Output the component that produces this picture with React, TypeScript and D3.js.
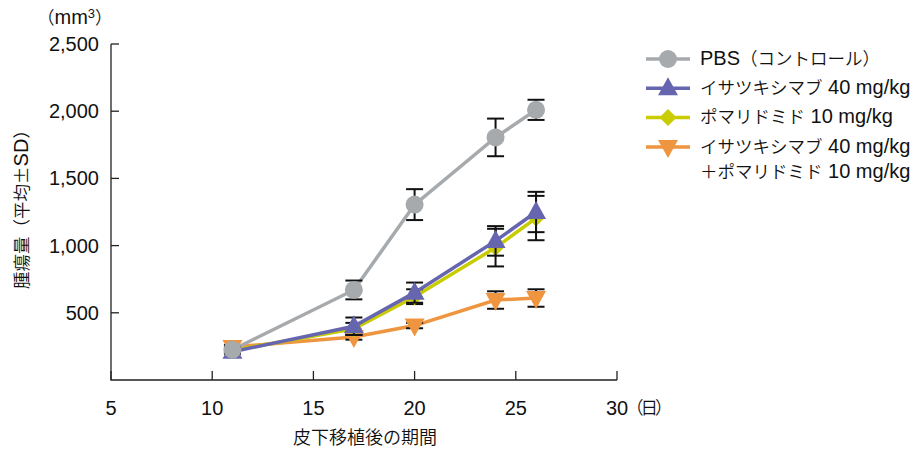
import React from "react";
import * as d3 from "d3";

const days = [11, 17, 20, 24, 26];
const pbsMean = [225, 670, 1305, 1805, 2010];
const pbsSd = [20, 70, 115, 140, 75];
const isaMean = [210, 400, 650, 1035, 1250];
const isaSd = [15, 65, 75, 110, 150];
const pomMean = [220, 380, 620, 985, 1205];
const pomSd = [15, 45, 55, 140, 165];
const comboMean = [245, 320, 405, 595, 610];
const comboSd = [15, 20, 20, 65, 65];

const xTicks = [5, 10, 15, 20, 25, 30];
const yTicks = [500, 1000, 1500, 2000, 2500];

const legendLabels = [
  ["PBS（コントロール）"],
  ["イサツキシマブ 40 mg/kg"],
  ["ポマリドミド 10 mg/kg"],
  ["イサツキシマブ 40 mg/kg", "＋ポマリドミド 10 mg/kg"],
];

const colors = ["#a6aaad", "#6666b0", "#c9cc00", "#f0953f"];
const shapes = ["circle", "up", "diamond", "down"];

const LATIN = "'Liberation Sans', Arial, sans-serif";
const CJK = "'Noto Sans CJK JP', sans-serif";
const LATIN_SIZE = 20;
const CJK_SIZE = 17.5;
const CJK_WEIGHT = 350;

// Split a label into Japanese / Latin runs so each gets its own face and size.
const CJK_RE = /[\u3000-\u30ff\u4e00-\u9fff\uff00-\uffef±]/;
function runs(text: string) {
  const re = /[\u3000-\u30ff\u4e00-\u9fff\uff00-\uffef±]+|[^\u3000-\u30ff\u4e00-\u9fff\uff00-\uffef±]+/g;
  return text.match(re) ?? [];
}

function MixedText({ text, ...rest }: { text: string; [k: string]: any }) {
  return (
    <text {...rest} fill="#111">
      {runs(text).map((r, i) => {
        const cjk = CJK_RE.test(r);
        return (
          <tspan
            key={i}
            fontFamily={cjk ? CJK : LATIN}
            fontSize={cjk ? CJK_SIZE : LATIN_SIZE}
            fontWeight={cjk ? CJK_WEIGHT : 400}
          >
            {r}
          </tspan>
        );
      })}
    </text>
  );
}

function Marker({ shape, x, y, color }: { shape: string; x: number; y: number; color: string }) {
  if (shape === "circle") return <circle cx={x} cy={y} r={9} fill={color} />;
  if (shape === "up")
    return <path d={`M${x},${y - 11} L${x + 10},${y + 7} L${x - 10},${y + 7}Z`} fill={color} />;
  if (shape === "down")
    return <path d={`M${x},${y + 11} L${x + 10},${y - 7} L${x - 10},${y - 7}Z`} fill={color} />;
  return <path d={`M${x},${y - 8.5} L${x + 8.5},${y} L${x},${y + 8.5} L${x - 8.5},${y}Z`} fill={color} />;
}

export default function App() {
  const x = d3.scaleLinear().domain([5, 30]).range([111, 617]);
  const y = d3.scaleLinear().domain([0, 2500]).range([380, 44]);

  const series = [
    { mean: pbsMean, sd: pbsSd },
    { mean: isaMean, sd: isaSd },
    { mean: pomMean, sd: pomSd },
    { mean: comboMean, sd: comboSd },
  ];
  const line = d3
    .line<number>()
    .x((_, i) => x(days[i]))
    .y((d) => y(d));

  const drawOrder = [3, 2, 1, 0];
  const fmt = d3.format(",");

  return (
    <svg width={914} height={451} style={{ position: "absolute", left: 0, top: 0 }}>
      <rect width={914} height={451} fill="#fff" />
      {/* axes */}
      <path d={`M${x(5)},${y(2500)} V${y(0)} H${x(30)}`} fill="none" stroke="#222" strokeWidth={1.3} />
      {yTicks.map((t) => (
        <g key={t}>
          <line x1={x(5)} x2={x(5) + 8} y1={y(t)} y2={y(t)} stroke="#222" strokeWidth={1.3} />
          <text x={99} y={y(t)} dy="0.35em" textAnchor="end" fontSize={LATIN_SIZE} fontFamily={LATIN} fill="#111">
            {fmt(t)}
          </text>
        </g>
      ))}
      {xTicks.map((t) => (
        <g key={t}>
          <line x1={x(t)} x2={x(t)} y1={y(0)} y2={y(0) - 9} stroke="#222" strokeWidth={1.3} />
          <text x={x(t)} y={408} dy="0.35em" textAnchor="middle" fontSize={LATIN_SIZE} fontFamily={LATIN} fill="#111">
            {t}
          </text>
        </g>
      ))}
      <text
        x={626}
        y={408}
        dy="0.35em"
        fontSize={CJK_SIZE}
        fontFamily={CJK}
        fontWeight={CJK_WEIGHT}
        fill="#111"
        letterSpacing={-3}
      >
        （日）
      </text>
      <text
        x={365}
        y={438}
        dy="0.35em"
        textAnchor="middle"
        fontSize={18}
        fontFamily={CJK}
        fontWeight={CJK_WEIGHT}
        fill="#111"
      >
        皮下移植後の期間
      </text>
      <text x={37} y={18} dy="0.35em" fill="#111">
        <tspan fontFamily={CJK} fontSize={CJK_SIZE} fontWeight={CJK_WEIGHT}>（</tspan>
        <tspan fontFamily={LATIN} fontSize={LATIN_SIZE}>mm</tspan>
        <tspan fontFamily={LATIN} fontSize={13} dy={-6}>3</tspan>
        <tspan fontFamily={CJK} fontSize={CJK_SIZE} fontWeight={CJK_WEIGHT} dy={6}>）</tspan>
      </text>
      <MixedText
        text="腫瘍量（平均±SD）"
        transform="translate(22,205) rotate(-90)"
        textAnchor="middle"
        dy="0.35em"
      />

      {/* series */}
      {drawOrder.map((si) => {
        const s = series[si];
        return (
          <g key={si}>
            <path d={line(s.mean) ?? ""} fill="none" stroke={colors[si]} strokeWidth={3.5} />
            {s.mean.map((m, i) => {
              const cx = x(days[i]);
              const yt = y(m + s.sd[i]);
              const yb = y(m - s.sd[i]);
              return (
                <g key={i} stroke="#111" strokeWidth={2}>
                  <line x1={cx} x2={cx} y1={yt} y2={yb} />
                  <line x1={cx - 8.5} x2={cx + 8.5} y1={yt} y2={yt} />
                  <line x1={cx - 8.5} x2={cx + 8.5} y1={yb} y2={yb} />
                </g>
              );
            })}
            {s.mean.map((m, i) => (
              <Marker key={i} shape={shapes[si]} x={x(days[i])} y={y(m)} color={colors[si]} />
            ))}
          </g>
        );
      })}

      {/* legend */}
      {legendLabels.map((lines, i) => {
        const ly = 59 + i * 29.3;
        return (
          <g key={i}>
            <line x1={646} x2={690} y1={ly} y2={ly} stroke={colors[i]} strokeWidth={3.5} />
            <Marker shape={shapes[i]} x={668} y={ly} color={colors[i]} />
            {lines.map((t, j) => (
              <MixedText key={j} text={t} x={700} y={ly + j * 25} dy="0.35em" />
            ))}
          </g>
        );
      })}
    </svg>
  );
}
